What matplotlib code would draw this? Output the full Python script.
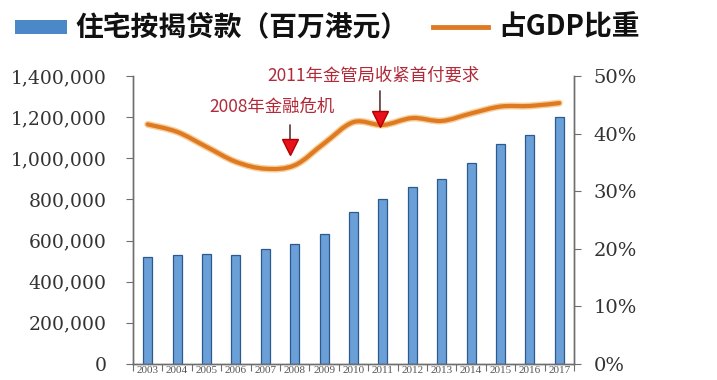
import numpy as np
import matplotlib
matplotlib.use("Agg")
import matplotlib.pyplot as plt
from matplotlib.path import Path
from matplotlib.patches import PathPatch, Rectangle
from matplotlib.lines import Line2D
import matplotlib.patheffects as pe

plt.rcParams['font.family'] = ['Noto Sans CJK SC', 'DejaVu Sans']

# data (x labels are mostly cut off in the reference)
years = ['2003', '2004', '2005', '2006', '2007', '2008', '2009', '2010',
         '2011', '2012', '2013', '2014', '2015', '2016', '2017']
loans = [521000, 529000, 534000, 529000, 557000, 584000, 634000, 737000,
         800000, 861000, 901000, 979000, 1071000, 1115000, 1200000]
gdp_share = [41.6, 40.3, 37.7, 35.1, 33.9, 34.5, 38.3, 42.0,
             41.5, 42.7, 42.2, 43.5, 44.7, 44.8, 45.3]
left_ticks = [0, 200000, 400000, 600000, 800000, 1000000, 1200000, 1400000]
right_ticks = [0, 10, 20, 30, 40, 50]

label_bar = '住宅按揭贷款（百万港元）'
label_line = '占GDP比重'
note_2008 = '2008年金融危机'
note_2011 = '2011年金管局收紧首付要求'

bar_color = '#6A9FD8'
bar_edge = '#2C5A8C'
line_color = '#E07A22'
note_color = '#B02A3A'
axis_color = '#6E6E6E'
tick_font = 'DejaVu Serif'

fig = plt.figure(figsize=(7.17, 3.8), dpi=100)
ax = fig.add_axes([133 / 717, 16 / 380, 441 / 717, 288 / 380])
ax2 = ax.twinx()

x = np.arange(len(years))
ax.bar(x, loans, width=0.3, color=bar_color, edgecolor=bar_edge, linewidth=0.9, zorder=2)
ax.set_xlim(-0.5, len(years) - 0.5)
ax.set_ylim(0, 1400000)
ax.set_yticks(left_ticks)
ax.set_yticklabels([f'{v:,}' for v in left_ticks], family=tick_font, fontsize=13.5, color='#333333')

# ticks on the category boundaries, small year labels in the middle
ax.set_xticks(np.arange(len(years) + 1) - 0.5)
ax.set_xticklabels([])
ax.set_xticks(x, minor=True)
ax.set_xticklabels(years, minor=True, family='Liberation Serif', fontsize=8, color='#555555')
ax.tick_params(axis='x', which='minor', length=0, pad=1.5)
ax.tick_params(axis='x', which='major', direction='out', length=5, color=axis_color)
ax.tick_params(axis='y', direction='out', length=5, color=axis_color, pad=14)

# smoothed line (Catmull-Rom style bezier through the points)
pts = np.column_stack([x, gdp_share]).astype(float)
verts = [pts[0]]
codes = [Path.MOVETO]
n = len(pts)
for i in range(n - 1):
    p0 = pts[i - 1] if i > 0 else pts[i]
    p1 = pts[i]
    p2 = pts[i + 1]
    p3 = pts[i + 2] if i + 2 < n else pts[i + 1]
    c1 = p1 + (p2 - p0) / 6
    c2 = p2 - (p3 - p1) / 6
    verts += [c1, c2, p2]
    codes += [Path.CURVE4] * 3
patch = PathPatch(Path(verts, codes), facecolor='none', edgecolor=line_color,
                  linewidth=3.0, capstyle='round', zorder=3,
                  path_effects=[pe.Stroke(linewidth=5, foreground='#F6CF9A'), pe.Normal()])
ax2.add_patch(patch)
ax2.set_ylim(0, 50)
ax2.set_yticks(right_ticks)
ax2.set_yticklabels([f'{v}%' for v in right_ticks], family=tick_font, fontsize=14, color='#333333')
ax2.tick_params(axis='y', direction='out', length=5, color=axis_color, pad=9)

for a in (ax, ax2):
    a.spines['top'].set_visible(False)
    for s in ('left', 'right', 'bottom'):
        a.spines[s].set_color(axis_color)
        a.spines[s].set_linewidth(1.0)

# annotations: text, dark stem, red arrow head
notes = [(4.23, 44.7, note_2008, 4.84, 42.0, 36.3, 37.6),
         (7.68, 50.0, note_2011, 7.90, 47.9, 41.3, 42.6)]
for tx, ty, txt, ax_x, top, tip, head in notes:
    ax2.text(tx, ty, txt, ha='center', va='center', fontsize=12.5, color=note_color, zorder=5)
    ax2.annotate('', xy=(ax_x, tip), xytext=(ax_x, top),
                 arrowprops=dict(arrowstyle='-', color='#3A1010', lw=1.0), zorder=5)
    ax2.plot([ax_x], [head], linestyle='none', marker='v', markersize=11,
             color='#E8101A', markeredgecolor='#B00000', zorder=6)

# legend drawn at the top
fig.patches.append(Rectangle((15 / 717, 1 - 34 / 380), 52 / 717, 14 / 380,
                             transform=fig.transFigure, facecolor='#4A88C8',
                             edgecolor='none'))
fig.text(75 / 717, 1 - 27 / 380, label_bar, fontsize=20, fontweight='bold',
         va='center', ha='left', color='#111111')
fig.lines.append(Line2D([433 / 717, 488 / 717], [1 - 27 / 380, 1 - 27 / 380],
                        transform=fig.transFigure, color=line_color, linewidth=3.5))
fig.text(498 / 717, 1 - 27 / 380, label_line, fontsize=20, fontweight='bold',
         va='center', ha='left', color='#111111')

fig.savefig('out.png', dpi=100)
